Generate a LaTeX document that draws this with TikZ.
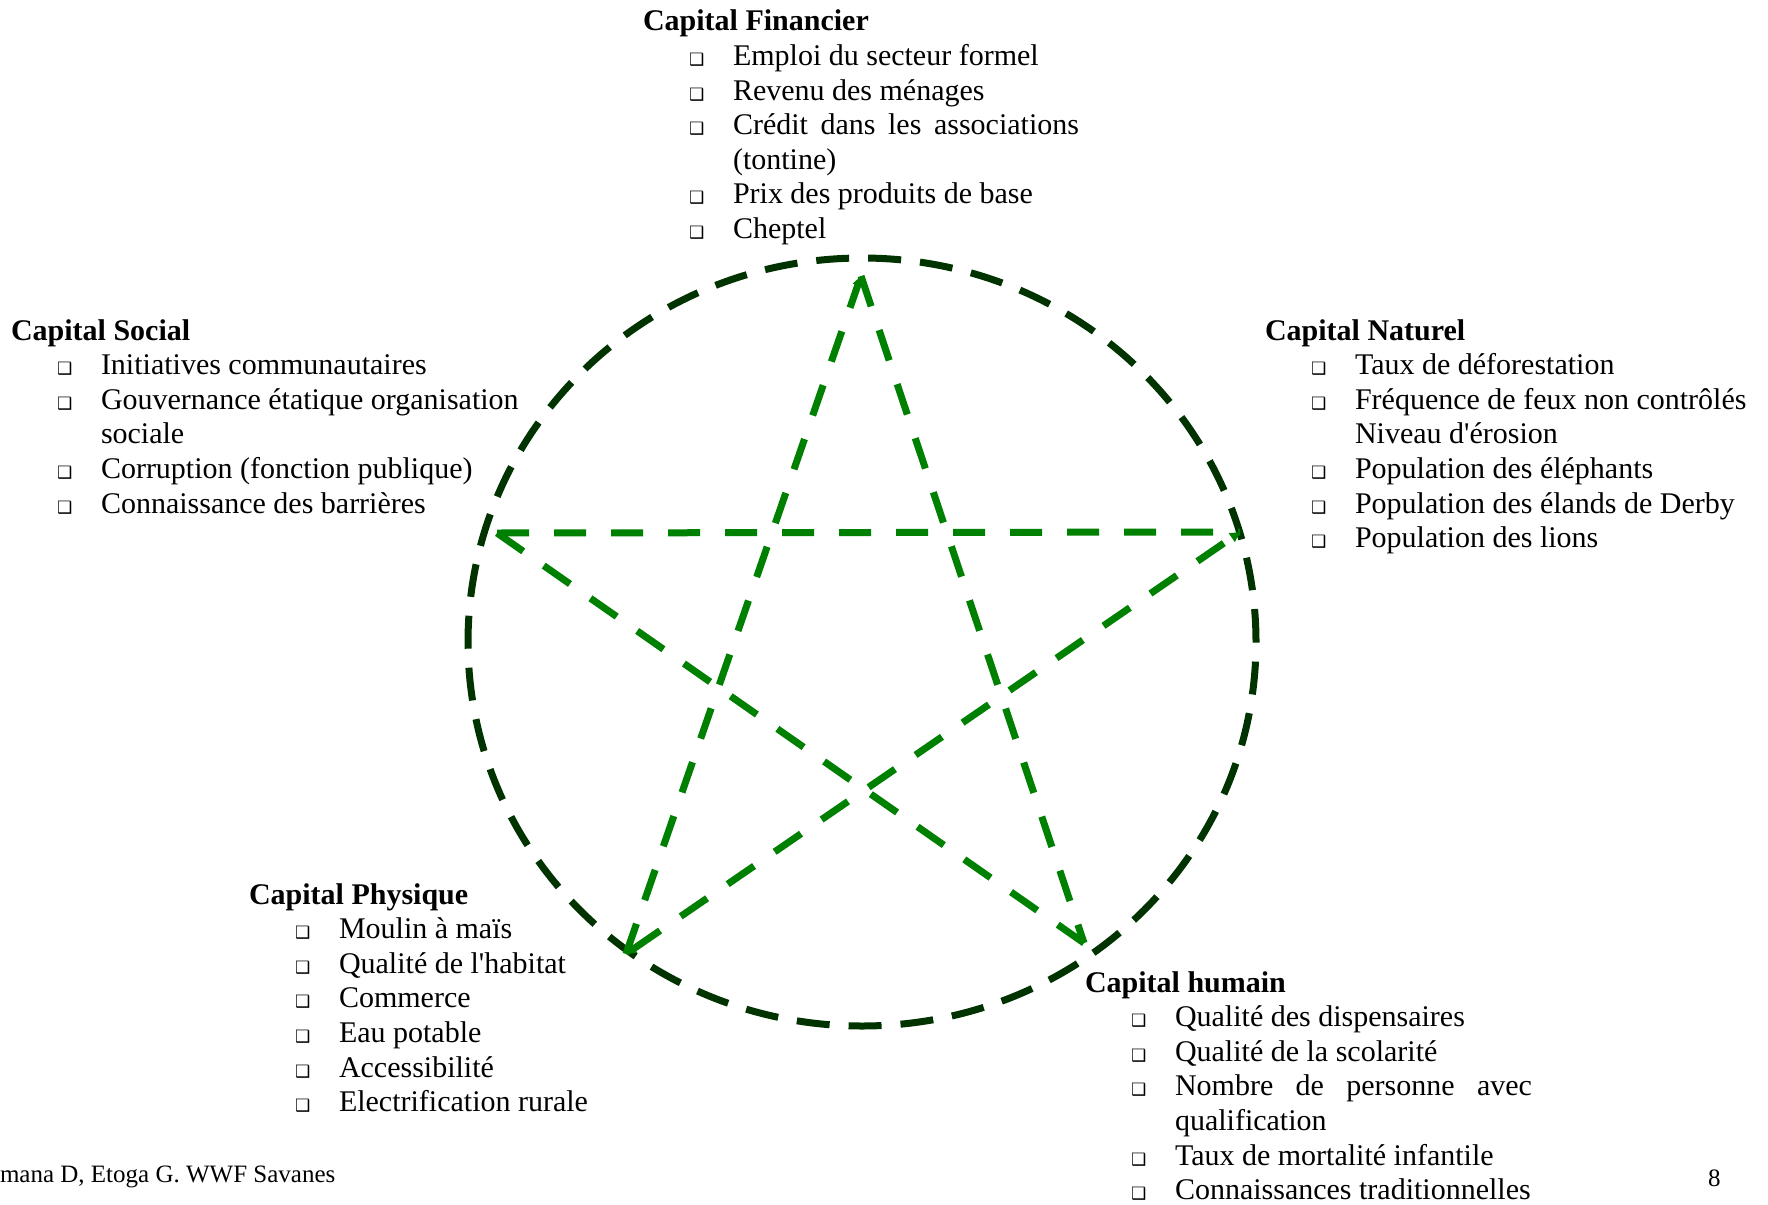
\documentclass[tikz,border=0pt]{standalone}
\usepackage{fontspec}
\setmainfont{Liberation Serif}
\newfontfamily\dingfont{DejaVu Sans}
\usetikzlibrary{arrows.meta}
\definecolor{ringgreen}{RGB}{0,51,0}
\definecolor{stargreen}{RGB}{0,128,0}
\newcommand{\bulbox}{\makebox[44pt][l]{\fontsize{17}{17}\selectfont\dingfont ❑}}
\newcommand{\itm}[1]{\hspace*{46pt}\bulbox #1}
\newcommand{\cnt}[1]{\hspace*{90pt}#1}
\newcommand{\apos}{\textquotesingle}
\begin{document}
\begin{tikzpicture}[x=1pt,y=-1pt,
  ring/.style={draw=ringgreen, line width=7pt, dash pattern=on 33pt off 19pt},
  starline/.style={draw=stargreen, line width=7pt, dash pattern=on 32pt off 25pt},
  group/.style={anchor=base west, inner sep=0pt, outer sep=0pt, font=\fontsize{30}{34.6}\selectfont},
  small/.style={anchor=base west, inner sep=0pt, outer sep=0pt, font=\fontsize{25}{30}\selectfont},
  tip/.style={-{Triangle[length=10pt,width=10pt]}}
]
\useasboundingbox (0,0) rectangle (1768,1204);

% ring
\draw[ring] (862,642) ellipse [x radius=394pt, y radius=384pt];

% star vertices
\coordinate (T) at (861,276);
\coordinate (L) at (497,533);
\coordinate (R) at (1240,532);
\coordinate (BL) at (626,954);
\coordinate (BR) at (1084,943);

\draw[starline] (L) -- (R);
\draw[starline] (L) -- (BR);
\draw[starline] (T) -- (BR);
\draw[starline, tip] (BL) -- (T);
\draw[starline, {Triangle[length=10pt,width=10pt]}-{Triangle[length=10pt,width=10pt]}] (BL) -- (R);

% text groups
\node[group] (fin) at (643,31) {\begin{tabular}[t]{@{}l@{}}
\textbf{Capital Financier}\\
\itm{Emploi du secteur formel}\\
\itm{Revenu des ménages}\\
\itm{\hbox to 346pt{Crédit\hfil dans\hfil les\hfil associations}}\\
\cnt{(tontine)}\\
\itm{Prix des produits de base}\\
\itm{Cheptel}
\end{tabular}};

\node[group] (soc) at (11,340) {\begin{tabular}[t]{@{}l@{}}
\textbf{Capital Social}\\
\itm{Initiatives communautaires}\\
\itm{Gouvernance étatique organisation}\\
\cnt{sociale}\\
\itm{Corruption (fonction publique)}\\
\itm{Connaissance des barrières}
\end{tabular}};

\node[group] (nat) at (1265,340) {\begin{tabular}[t]{@{}l@{}}
\textbf{Capital Naturel}\\
\itm{Taux de déforestation}\\
\itm{Fréquence de feux non contrôlés}\\
\cnt{Niveau d\apos érosion}\\
\itm{Population des éléphants}\\
\itm{Population des élands de Derby}\\
\itm{Population des lions}
\end{tabular}};

\node[group] (phy) at (249,904) {\begin{tabular}[t]{@{}l@{}}
\textbf{Capital Physique}\\
\itm{Moulin à maïs}\\
\itm{Qualité de l\apos habitat}\\
\itm{Commerce}\\
\itm{Eau potable}\\
\itm{Accessibilité}\\
\itm{Electrification rurale}
\end{tabular}};

\node[group] (hum) at (1085,992) {\begin{tabular}[t]{@{}l@{}}
\textbf{Capital humain}\\
\itm{Qualité des dispensaires}\\
\itm{Qualité de la scolarité}\\
\itm{\hbox to 357pt{Nombre\hfil de\hfil personne\hfil avec}}\\
\cnt{qualification}\\
\itm{Taux de mortalité infantile}\\
\itm{Connaissances traditionnelles}
\end{tabular}};

\node[small] (foot) at (0,1182) {mana D, Etoga G. WWF Savanes};
\node[small] (page) at (1708,1186) {8};
\end{tikzpicture}
\end{document}
